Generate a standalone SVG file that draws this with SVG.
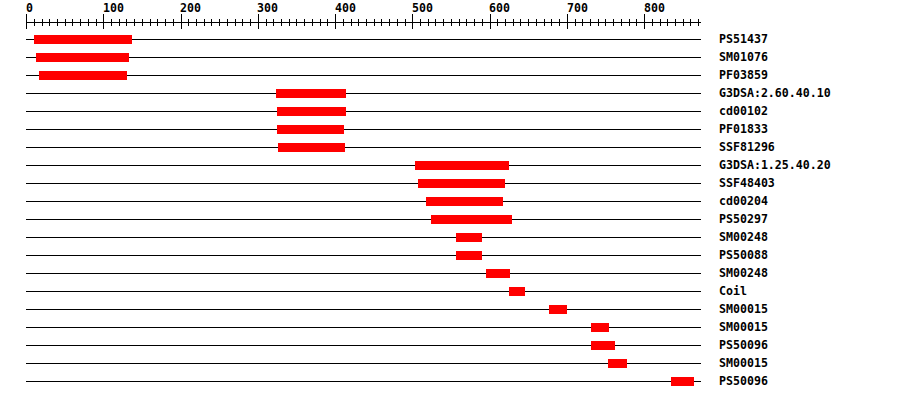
<svg xmlns="http://www.w3.org/2000/svg" width="900" height="400" viewBox="0 0 900 400">
<style>
.t{font-family:"DejaVu Sans Mono","Liberation Mono",monospace;font-weight:bold;font-size:11.6px;fill:#000}
.ln{stroke:#000;stroke-width:1;fill:none;shape-rendering:crispEdges}
.bar{fill:#ff0000;shape-rendering:crispEdges}
</style>
<rect width="900" height="400" fill="#fff"/>
<g id="axis">
<path class="ln" d="M26 22.5H701"/>
<path class="ln" d="M26.5 14V29M103.8 14V29M181 14V29M258.3 14V29M335.5 14V29M412.8 14V29M490 14V29M567.3 14V29M644.5 14V29"/>
<path class="ln" d="M34.2 19V26M42 19V26M49.7 19V26M57.4 19V26M65.1 19V26M72.9 19V26M80.6 19V26M88.3 19V26M96 19V26M111.5 19V26M119.2 19V26M126.9 19V26M134.7 19V26M142.4 19V26M150.1 19V26M157.8 19V26M165.6 19V26M173.3 19V26M188.7 19V26M196.5 19V26M204.2 19V26M211.9 19V26M219.6 19V26M227.4 19V26M235.1 19V26M242.8 19V26M250.5 19V26M266 19V26M273.7 19V26M281.4 19V26M289.2 19V26M296.9 19V26M304.6 19V26M312.3 19V26M320.1 19V26M327.8 19V26M343.2 19V26M351 19V26M358.7 19V26M366.4 19V26M374.1 19V26M381.9 19V26M389.6 19V26M397.3 19V26M405 19V26M420.5 19V26M428.2 19V26M435.9 19V26M443.7 19V26M451.4 19V26M459.1 19V26M466.8 19V26M474.6 19V26M482.3 19V26M497.7 19V26M505.5 19V26M513.2 19V26M520.9 19V26M528.6 19V26M536.4 19V26M544.1 19V26M551.8 19V26M559.5 19V26M575 19V26M582.7 19V26M590.4 19V26M598.2 19V26M605.9 19V26M613.6 19V26M621.3 19V26M629.1 19V26M636.8 19V26M652.2 19V26M660 19V26M667.7 19V26M675.4 19V26M683.1 19V26M690.9 19V26M698.6 19V26"/>
<text class="t" x="26" y="12">0</text>
<text class="t" x="103" y="12">100</text>
<text class="t" x="180" y="12">200</text>
<text class="t" x="257" y="12">300</text>
<text class="t" x="335" y="12">400</text>
<text class="t" x="412" y="12">500</text>
<text class="t" x="489" y="12">600</text>
<text class="t" x="567" y="12">700</text>
<text class="t" x="644" y="12">800</text>
</g>
<g id="connectors">
<path class="ln" d="M26 39.5H701M26 57.5H701M26 75.5H701M26 93.5H701M26 111.5H701M26 129.5H701M26 147.5H701M26 165.5H701M26 183.5H701M26 201.5H701M26 219.5H701M26 237.5H701M26 255.5H701M26 273.5H701M26 291.5H701M26 309.5H701M26 327.5H701M26 345.5H701M26 363.5H701M26 381.5H701"/>
</g>
<g id="n0"><rect class="bar" x="34" y="35" width="98" height="9"/><text class="t" x="719" y="43">PS51437</text></g>
<g id="n1"><rect class="bar" x="36" y="53" width="93" height="9"/><text class="t" x="719" y="61">SM01076</text></g>
<g id="n2"><rect class="bar" x="39" y="71" width="88" height="9"/><text class="t" x="719" y="79">PF03859</text></g>
<g id="n3"><rect class="bar" x="276" y="89" width="70" height="9"/><text class="t" x="719" y="97">G3DSA:2.60.40.10</text></g>
<g id="n4"><rect class="bar" x="277" y="107" width="69" height="9"/><text class="t" x="719" y="115">cd00102</text></g>
<g id="n5"><rect class="bar" x="277" y="125" width="67" height="9"/><text class="t" x="719" y="133">PF01833</text></g>
<g id="n6"><rect class="bar" x="278" y="143" width="67" height="9"/><text class="t" x="719" y="151">SSF81296</text></g>
<g id="n7"><rect class="bar" x="415" y="161" width="94" height="9"/><text class="t" x="719" y="169">G3DSA:1.25.40.20</text></g>
<g id="n8"><rect class="bar" x="418" y="179" width="87" height="9"/><text class="t" x="719" y="187">SSF48403</text></g>
<g id="n9"><rect class="bar" x="426" y="197" width="77" height="9"/><text class="t" x="719" y="205">cd00204</text></g>
<g id="n10"><rect class="bar" x="431" y="215" width="81" height="9"/><text class="t" x="719" y="223">PS50297</text></g>
<g id="n11"><rect class="bar" x="456" y="233" width="26" height="9"/><text class="t" x="719" y="241">SM00248</text></g>
<g id="n12"><rect class="bar" x="456" y="251" width="26" height="9"/><text class="t" x="719" y="259">PS50088</text></g>
<g id="n13"><rect class="bar" x="486" y="269" width="24" height="9"/><text class="t" x="719" y="277">SM00248</text></g>
<g id="n14"><rect class="bar" x="509" y="287" width="16" height="9"/><text class="t" x="719" y="295">Coil</text></g>
<g id="n15"><rect class="bar" x="549" y="305" width="18" height="9"/><text class="t" x="719" y="313">SM00015</text></g>
<g id="n16"><rect class="bar" x="591" y="323" width="18" height="9"/><text class="t" x="719" y="331">SM00015</text></g>
<g id="n17"><rect class="bar" x="591" y="341" width="24" height="9"/><text class="t" x="719" y="349">PS50096</text></g>
<g id="n18"><rect class="bar" x="608" y="359" width="19" height="9"/><text class="t" x="719" y="367">SM00015</text></g>
<g id="n19"><rect class="bar" x="671" y="377" width="23" height="9"/><text class="t" x="719" y="385">PS50096</text></g>
</svg>
